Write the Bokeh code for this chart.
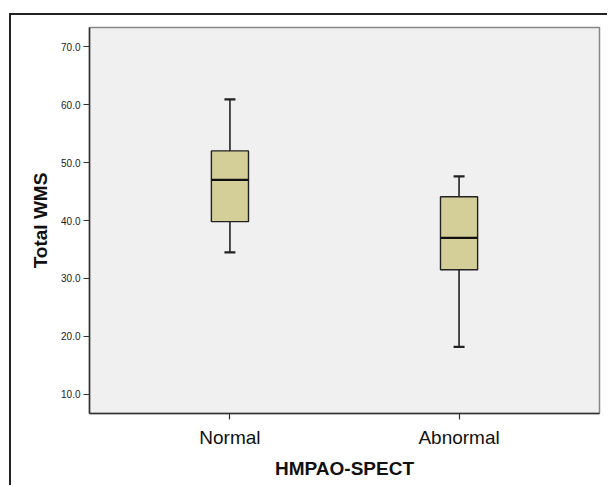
from bokeh.plotting import figure
from bokeh.models import ColumnDataSource, FactorRange, Range1d, Whisker, TeeHead, FixedTicker, PrintfTickFormatter
from bokeh.embed import file_html
from bokeh.resources import INLINE

# data
groups = ["Normal", "Abnormal"]
whisker_low = [34.5, 18.2]
q1 = [39.8, 31.5]
median = [47.0, 37.0]
q3 = [52.0, 44.1]
whisker_high = [60.9, 47.6]
y_ticks = [10, 20, 30, 40, 50, 60, 70]

src = ColumnDataSource(dict(g=groups, lo=whisker_low, q1=q1, med=median, q3=q3, hi=whisker_high))

p = figure(
    x_range=FactorRange(factors=groups, range_padding=0.113),
    y_range=Range1d(6.72, 73.28),
    width=598, height=472,
    output_backend="svg", toolbar_location=None,
    min_border_left=78, min_border_top=12, min_border_right=10, min_border_bottom=74,
)
p.margin = (13, 0, 0, 9)
p.styles = {"border-left": "2px solid #222222", "border-top": "2px solid #222222"}

p.background_fill_color = "#f0f0f0"
p.border_fill_color = "white"
p.outline_line_color = "#888888"
p.outline_line_width = 1.5
p.xgrid.visible = False
p.ygrid.visible = False

# whiskers
up = Whisker(source=src, base="g", lower="q3", upper="hi", dimension="height",
             line_color="#222222", line_width=1.6,
             upper_head=TeeHead(size=11, line_color="#222222", line_width=2.2), lower_head=None)
dn = Whisker(source=src, base="g", lower="lo", upper="q1", dimension="height",
             line_color="#222222", line_width=1.6,
             lower_head=TeeHead(size=11, line_color="#222222", line_width=2.2), upper_head=None)
p.add_layout(up)
p.add_layout(dn)

# boxes
p.vbar(x="g", top="q3", bottom="q1", width=0.162, source=src,
       fill_color="#d4cf98", line_color="#222222", line_width=1.4)
# medians
p.vbar(x="g", top="med", bottom="med", width=0.162, source=src,
       fill_alpha=0, line_color="#111111", line_width=2.2)

# axes
p.yaxis.ticker = FixedTicker(ticks=y_ticks)
p.yaxis.formatter = PrintfTickFormatter(format="%.1f")
p.yaxis.axis_label = "Total WMS"
p.xaxis.axis_label = "HMPAO-SPECT"
for ax in (p.xaxis[0], p.yaxis[0]):
    ax.axis_line_color = "#333333"
    ax.axis_line_width = 1.5
    ax.major_tick_line_color = "#333333"
    ax.major_tick_line_width = 1.2
    ax.major_tick_in = 0
    ax.major_tick_out = 6
    ax.minor_tick_line_color = None
    ax.axis_label_text_font = "Liberation Sans"
    ax.axis_label_text_font_style = "bold"
    ax.axis_label_text_font_size = "19px"
    ax.axis_label_text_color = "#111111"
    ax.major_label_text_font = "Liberation Sans"
p.yaxis.major_label_text_font_size = "10px"
p.yaxis.major_label_text_color = "#222222"
p.yaxis.major_label_standoff = 3
p.yaxis.axis_label_standoff = 7
p.xaxis.major_label_text_font_size = "19px"
p.xaxis.major_label_text_color = "#111111"
p.xaxis.major_label_standoff = 7
p.xaxis.axis_label_standoff = 7
p.xaxis.group_text_font_size = "1px"

open("out.html", "w").write(file_html(p, INLINE))
